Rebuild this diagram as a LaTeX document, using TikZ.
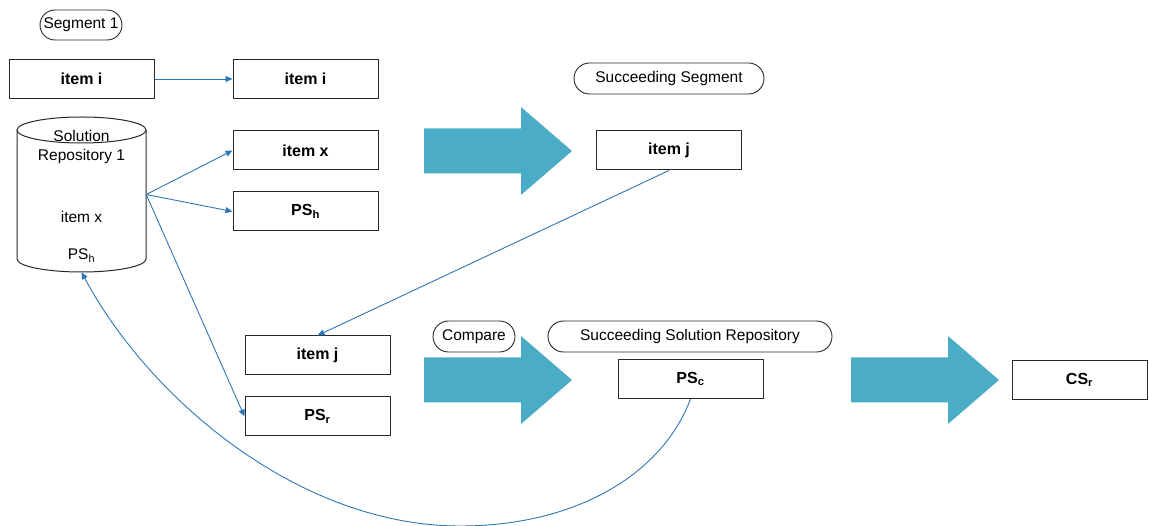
\documentclass[tikz,border=0pt]{standalone}
\usepackage{fontspec}
\setmainfont{Liberation Sans}
\usetikzlibrary{arrows.meta,shapes.misc}
\definecolor{linkblue}{RGB}{46,117,182}
\definecolor{bigteal}{RGB}{75,172,198}
\definecolor{edge}{RGB}{40,40,40}
\tikzset{
  boxnode/.style={draw=edge, line width=1pt, minimum width=145pt, minimum height=39pt, inner sep=0pt, font=\fontsize{16}{18}\selectfont\bfseries},
  ovalnode/.style={draw=edge, line width=0.9pt, rounded rectangle, minimum height=31pt, inner sep=0pt, font=\fontsize{15.5}{18}\selectfont},
  plaintext/.style={inner sep=0pt, font=\fontsize{15.5}{18}\selectfont},
  link/.style={draw=linkblue, line width=0.9pt, -{Triangle[length=7pt,width=6pt]}},
  bigarrow/.style={fill=bigteal, draw=none}
}
\begin{document}
\begin{tikzpicture}[x=1pt,y=-1pt]
\useasboundingbox (0,0) rectangle (1149,526);

% ovals
\node[ovalnode, minimum width=82pt, minimum height=30pt] (seg1) at (81,25) {Segment 1};
\node[ovalnode, minimum width=190pt] (succseg) at (669,78.5) {Succeeding Segment};
\node[ovalnode, minimum width=82pt] (cmp) at (474,336.5) {Compare};
\node[ovalnode, minimum width=284pt] (ssr) at (690,336.5) {Succeeding Solution Repository};

% boxes
\node[boxnode] (itemiA) at (81.5,79) {item i};
\node[boxnode] (itemiB) at (305.5,79) {item i};
\node[boxnode] (itemx) at (305.5,150.5) {item x};
\node[boxnode] (psh) at (305.5,211.5) {PS\textsubscript{h}};
\node[boxnode] (itemjA) at (669,150.5) {item j};
\node[boxnode] (itemjB) at (317.5,355.5) {item j};
\node[boxnode] (psr) at (317.5,416.5) {PS\textsubscript{r}};
\node[boxnode] (psc) at (690.5,379) {PS\textsubscript{c}};
\node[boxnode, minimum width=135pt] (csr) at (1079.5,380) {CS\textsubscript{r}};

% cylinder
\node[minimum width=129pt, minimum height=155pt, inner sep=0pt] (cyl) at (81.5,194.5) {};
\draw[edge, line width=1pt, fill=white]
  (17,130) -- (17,259) arc[start angle=180, end angle=360, x radius=64.5, y radius=-13] -- (146,130);
\draw[edge, line width=1pt] (81.5,130) ellipse[x radius=64.5, y radius=13];
\node[plaintext] (cylt1) at (81.5,136) {Solution};
\node[plaintext] (cylt2) at (81.5,156) {Repository 1};
\node[plaintext] (cylt3) at (81.5,217) {item x};
\node[plaintext] (cylt4) at (81.5,256) {PS\textsubscript{h}};

% big arrows
\foreach \x/\y in {424/151, 424/380, 851/380}{
  \fill[bigarrow] (\x,\y-22.5) -- (\x+97,\y-22.5) -- (\x+97,\y-44) -- (\x+148,\y)
     -- (\x+97,\y+44) -- (\x+97,\y+22.5) -- (\x,\y+22.5) -- cycle;
}

% connectors
\draw[link] (itemiA.east) -- (itemiB.west);
\draw[link] (cyl.east) -- (itemx.west);
\draw[link] (cyl.east) -- (psh.west);
\draw[link] (cyl.east) -- (psr.west);
\draw[link] (itemjA.south) -- (itemjB.north);
\draw[link] (psc.south) .. controls (662,475) and (575,526) .. (460,526)
   .. controls (300,526) and (150,400) .. (cyl.south);
\end{tikzpicture}
\end{document}
